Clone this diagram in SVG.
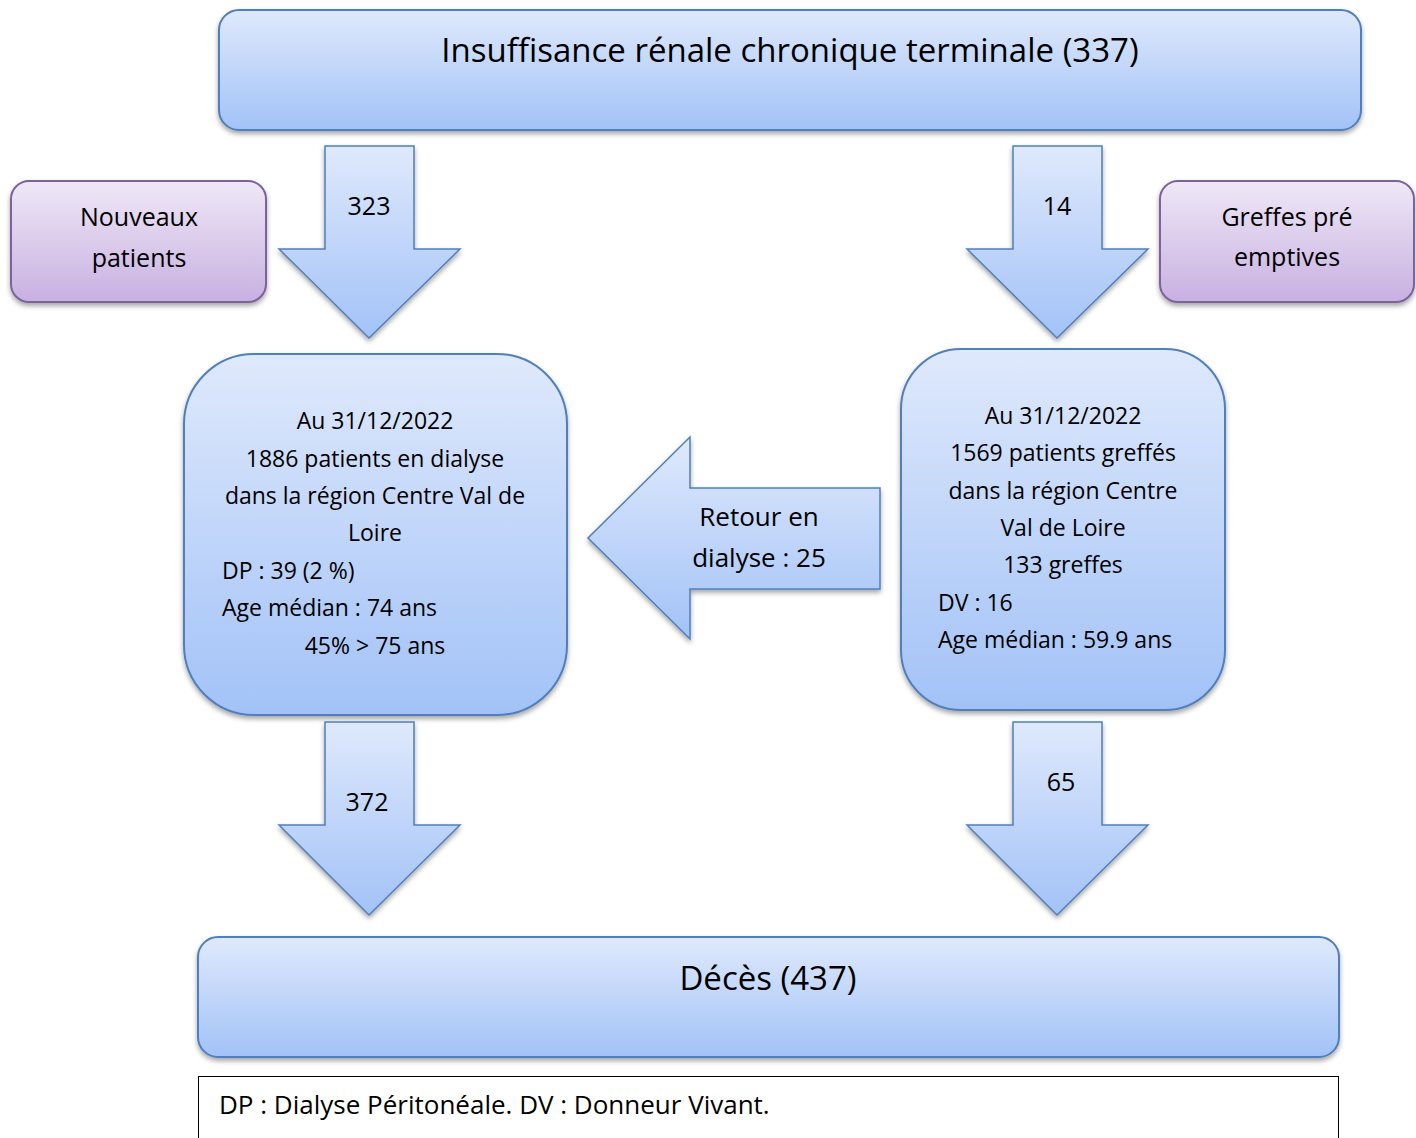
<svg xmlns="http://www.w3.org/2000/svg" width="1416" height="1138" viewBox="0 0 1416 1138">
<defs>
<linearGradient id="gb" x1="0" y1="0" x2="0" y2="1">
<stop offset="0" stop-color="#dfe9fc"/>
<stop offset="1" stop-color="#a2c2f7"/>
</linearGradient>
<linearGradient id="gp" x1="0" y1="0" x2="0" y2="1">
<stop offset="0" stop-color="#efe8f6"/>
<stop offset="1" stop-color="#c8b0e1"/>
</linearGradient>
<filter id="sh" x="-10%" y="-10%" width="120%" height="130%">
<feDropShadow dx="0" dy="3" stdDeviation="2.5" flood-color="#000" flood-opacity="0.35"/>
</filter>
<style>
.b{fill:url(#gb);stroke:#4f7fbd;stroke-width:2;filter:url(#sh)}
.p{fill:url(#gp);stroke:#7d62a0;stroke-width:2;filter:url(#sh)}
.a{fill:url(#gb);stroke:#4f7fbd;stroke-width:1.5}
text{font-family:"Open Sans","Liberation Sans",sans-serif;fill:#000}
.c{text-anchor:middle}
.t23{font-size:23px}
.t25{font-size:25px}
.t26{font-size:26px}
.t33{font-size:33px}
</style>
</defs>
<g id="top">
<rect class="b" x="219" y="10" width="1142" height="120" rx="20"/>
<text class="c t33" x="790" y="62">Insuffisance rénale chronique terminale (337)</text>
</g>
<g id="nouveaux">
<rect class="p" x="11" y="181" width="255" height="121" rx="18"/>
<text class="c t25" x="139" y="226">Nouveaux</text>
<text class="c t25" x="139" y="267">patients</text>
</g>
<g id="greffes">
<rect class="p" x="1160" y="181" width="254" height="121" rx="18"/>
<text class="c t25" x="1287" y="226">Greffes pré</text>
<text class="c t25" x="1287" y="266">emptives</text>
</g>
<g id="dialyse">
<rect class="b" x="184" y="354" width="383" height="361" rx="70"/>
<text class="c t23" x="375" y="429">Au 31/12/2022</text>
<text class="c t23" x="375" y="467">1886 patients en dialyse</text>
<text class="c t23" x="375" y="504">dans la région Centre Val de</text>
<text class="c t23" x="375" y="541">Loire</text>
<text class="t23" x="222" y="579">DP : 39 (2 %)</text>
<text class="t23" x="222" y="616">Age médian : 74 ans</text>
<text class="c t23" x="375" y="654">45% &gt; 75 ans</text>
</g>
<g id="greffes-total">
<rect class="b" x="901" y="349" width="324" height="361" rx="60"/>
<text class="c t23" x="1063" y="424">Au 31/12/2022</text>
<text class="c t23" x="1063" y="461">1569 patients greffés</text>
<text class="c t23" x="1063" y="499">dans la région Centre</text>
<text class="c t23" x="1063" y="536">Val de Loire</text>
<text class="c t23" x="1063" y="573">133 greffes</text>
<text class="t23" x="938" y="611">DV : 16</text>
<text class="t23" x="938" y="648">Age médian : 59.9 ans</text>
</g>
<g id="deces">
<rect class="b" x="198" y="937" width="1141" height="120" rx="20"/>
<text class="c t33" x="768" y="990">Décès (437)</text>
</g>
<g id="legend">
<rect x="198.5" y="1076.5" width="1140" height="80" fill="#fff" stroke="#000" stroke-width="1"/>
<text class="t26" x="219" y="1114">DP : Dialyse Péritonéale. DV : Donneur Vivant.</text>
</g>
<g id="connectors">
<g filter="url(#sh)">
<path class="a" d="M325,146 H414 V249 H460 L369,338 L279,249 H325 Z"/>
<path class="a" d="M1013,146 H1102 V249 H1148 L1057,338 L967,249 H1013 Z"/>
<path class="a" d="M880,488 V589 H690 V639 L588,538 L690,437 V488 Z"/>
<path class="a" d="M325,722 H414 V825 H460 L369,915 L279,825 H325 Z"/>
<path class="a" d="M1013,722 H1102 V825 H1148 L1057,915 L967,825 H1013 Z"/>
</g>
<text class="c t25" x="369" y="215">323</text>
<text class="c t25" x="1057" y="215">14</text>
<text class="c t26" x="759" y="526">Retour en</text>
<text class="c t26" x="759" y="567">dialyse : 25</text>
<text class="c t25" x="367" y="811">372</text>
<text class="c t25" x="1061" y="791">65</text>
</g>
</svg>
